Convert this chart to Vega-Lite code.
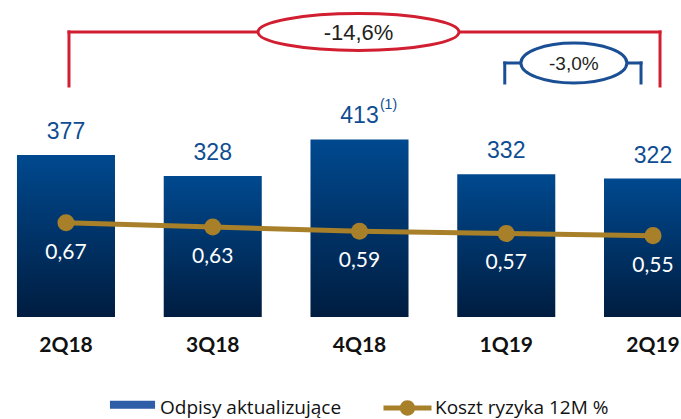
{
  "$schema": "https://vega.github.io/schema/vega-lite/v6.json",
  "width": 681,
  "height": 419,
  "autosize": "none",
  "padding": 0,
  "background": "white",
  "config": {
    "view": {"stroke": null},
    "font": "Lato",
    "locale": {"number": {"decimal": ",", "thousands": " ", "grouping": [3], "currency": ["", ""]}}
  },
  "datasets": {
    "quarters": [
      {"quarter": "2Q18", "writedowns": 377, "risk_cost": 0.67, "note": ""},
      {"quarter": "3Q18", "writedowns": 328, "risk_cost": 0.63, "note": ""},
      {"quarter": "4Q18", "writedowns": 413, "risk_cost": 0.59, "note": "(1)"},
      {"quarter": "1Q19", "writedowns": 332, "risk_cost": 0.57, "note": ""},
      {"quarter": "2Q19", "writedowns": 322, "risk_cost": 0.55, "note": ""}
    ],
    "changes": [
      {"from": "2Q18", "to": "2Q19", "change": "-14,6%"},
      {"from": "1Q19", "to": "2Q19", "change": "-3,0%"}
    ],
    "series": [
      {"series": "Odpisy aktualizujące"},
      {"series": "Koszt ryzyka 12M %"}
    ]
  },
  "resolve": {"scale": {"y": "independent"}},
  "layer": [
    {
      "layer": [
        {
          "data": {"name": "quarters"},
          "mark": {
            "type": "bar",
            "color": {
              "gradient": "linear", "x1": 0, "y1": 0, "x2": 0, "y2": 1,
              "stops": [{"offset": 0, "color": "#00498F"}, {"offset": 1, "color": "#001D40"}]
            }
          },
          "encoding": {
            "x": {
              "field": "quarter", "type": "nominal", "sort": null,
              "scale": {"domain": ["2Q18", "3Q18", "4Q18", "1Q19", "2Q19"], "range": [-7.4, 726.4], "paddingInner": 0.332, "paddingOuter": 0.166},
              "axis": {
                "title": null, "domain": false, "ticks": false, "tickSize": 0, "grid": false,
                "labelPadding": 0, "offset": -74, "labelAngle": 0, "labelBaseline": "middle",
                "labelFont": "Lato", "labelFontWeight": "bold", "labelFontSize": 21, "labelColor": "#111111"
              }
            },
            "y": {"field": "writedowns", "type": "quantitative", "scale": {"domain": [-237.2, 737.2], "nice": false, "zero": false}, "axis": null}
          }
        },
        {
          "data": {"name": "quarters"},
          "mark": {"type": "text", "color": "#0F4D92", "font": "Liberation Sans", "fontSize": 23, "baseline": "middle", "dy": -23},
          "encoding": {
            "x": {"field": "quarter", "type": "nominal", "sort": null, "scale": {"domain": ["2Q18", "3Q18", "4Q18", "1Q19", "2Q19"]}},
            "y": {"field": "writedowns", "type": "quantitative", "axis": null},
            "text": {"field": "writedowns", "type": "quantitative"}
          }
        },
        {
          "data": {"name": "quarters"},
          "mark": {"type": "text", "color": "#0F4D92", "font": "Liberation Sans", "fontSize": 14, "baseline": "middle", "dx": 29, "dy": -34.4},
          "encoding": {
            "x": {"field": "quarter", "type": "nominal", "sort": null, "scale": {"domain": ["2Q18", "3Q18", "4Q18", "1Q19", "2Q19"]}},
            "y": {"field": "writedowns", "type": "quantitative", "axis": null},
            "text": {"field": "note", "type": "nominal"}
          }
        },
        {
          "data": {"name": "changes"},
          "transform": [{"filter": "datum.change === '-14,6%'"}],
          "mark": {"type": "rule", "color": "#D11F31", "strokeWidth": 3, "strokeCap": "square", "xOffset": 3, "x2Offset": 7},
          "encoding": {
            "x": {"field": "from", "type": "nominal", "scale": {"domain": ["2Q18", "3Q18", "4Q18", "1Q19", "2Q19"]}},
            "x2": {"field": "to"},
            "y": {"datum": 662.8, "type": "quantitative", "axis": null}
          }
        },
        {
          "data": {"name": "changes"},
          "transform": [{"filter": "datum.change === '-14,6%'"}],
          "mark": {"type": "rule", "color": "#D11F31", "strokeWidth": 3, "strokeCap": "square", "xOffset": 3},
          "encoding": {
            "x": {"field": "from", "type": "nominal", "scale": {"domain": ["2Q18", "3Q18", "4Q18", "1Q19", "2Q19"]}},
            "y": {"datum": 662.8, "type": "quantitative", "axis": null},
            "y2": {"datum": 537.2}
          }
        },
        {
          "data": {"name": "changes"},
          "transform": [{"filter": "datum.change === '-14,6%'"}],
          "mark": {"type": "rule", "color": "#D11F31", "strokeWidth": 3, "strokeCap": "square", "xOffset": 7},
          "encoding": {
            "x": {"field": "to", "type": "nominal", "scale": {"domain": ["2Q18", "3Q18", "4Q18", "1Q19", "2Q19"]}},
            "y": {"datum": 662.8, "type": "quantitative", "axis": null},
            "y2": {"datum": 537.2}
          }
        },
        {
          "data": {"name": "changes"},
          "transform": [{"filter": "datum.change === '-3,0%'"}],
          "mark": {"type": "rule", "color": "#1B4F95", "strokeWidth": 3, "strokeCap": "square", "xOffset": -1.5, "x2Offset": -12},
          "encoding": {
            "x": {"field": "from", "type": "nominal", "scale": {"domain": ["2Q18", "3Q18", "4Q18", "1Q19", "2Q19"]}},
            "x2": {"field": "to"},
            "y": {"datum": 590.7, "type": "quantitative", "axis": null}
          }
        },
        {
          "data": {"name": "changes"},
          "transform": [{"filter": "datum.change === '-3,0%'"}],
          "mark": {"type": "rule", "color": "#1B4F95", "strokeWidth": 3, "strokeCap": "square", "xOffset": -1.5},
          "encoding": {
            "x": {"field": "from", "type": "nominal", "scale": {"domain": ["2Q18", "3Q18", "4Q18", "1Q19", "2Q19"]}},
            "y": {"datum": 590.7, "type": "quantitative", "axis": null},
            "y2": {"datum": 544.2}
          }
        },
        {
          "data": {"name": "changes"},
          "transform": [{"filter": "datum.change === '-3,0%'"}],
          "mark": {"type": "rule", "color": "#1B4F95", "strokeWidth": 3, "strokeCap": "square", "xOffset": -12},
          "encoding": {
            "x": {"field": "to", "type": "nominal", "scale": {"domain": ["2Q18", "3Q18", "4Q18", "1Q19", "2Q19"]}},
            "y": {"datum": 590.7, "type": "quantitative", "axis": null},
            "y2": {"datum": 544.2}
          }
        },
        {
          "data": {"name": "changes"},
          "transform": [{"filter": "datum.change === '-14,6%'"}],
          "mark": {"type": "point", "shape": "M-1,0A1,0.184,0,1,0,1,0A1,0.184,0,1,0,-1,0Z", "size": 40401, "filled": true, "fill": "white", "stroke": "#D11F31", "strokeWidth": 3, "opacity": 1, "xOffset": -1},
          "encoding": {
            "x": {"datum": "4Q18", "type": "nominal", "scale": {"domain": ["2Q18", "3Q18", "4Q18", "1Q19", "2Q19"]}},
            "y": {"datum": 662.8, "type": "quantitative", "axis": null}
          }
        },
        {
          "data": {"name": "changes"},
          "transform": [{"filter": "datum.change === '-14,6%'"}],
          "mark": {"type": "text", "font": "Liberation Sans", "fontSize": 22, "color": "#231F20", "baseline": "middle", "xOffset": -1, "dy": 1},
          "encoding": {
            "x": {"datum": "4Q18", "type": "nominal", "scale": {"domain": ["2Q18", "3Q18", "4Q18", "1Q19", "2Q19"]}},
            "y": {"datum": 662.8, "type": "quantitative", "axis": null},
            "text": {"field": "change", "type": "nominal"}
          }
        },
        {
          "data": {"name": "changes"},
          "transform": [{"filter": "datum.change === '-3,0%'"}],
          "mark": {"type": "point", "shape": "M-1,0A1,0.377,0,1,0,1,0A1,0.377,0,1,0,-1,0Z", "size": 11236, "filled": true, "fill": "white", "stroke": "#1B4F95", "strokeWidth": 3, "opacity": 1, "xOffset": 67.6},
          "encoding": {
            "x": {"datum": "1Q19", "type": "nominal", "scale": {"domain": ["2Q18", "3Q18", "4Q18", "1Q19", "2Q19"]}},
            "y": {"datum": 590.7, "type": "quantitative", "axis": null}
          }
        },
        {
          "data": {"name": "changes"},
          "transform": [{"filter": "datum.change === '-3,0%'"}],
          "mark": {"type": "text", "font": "Liberation Sans", "fontSize": 19, "color": "#231F20", "baseline": "middle", "xOffset": 67.6, "dy": 1},
          "encoding": {
            "x": {"datum": "1Q19", "type": "nominal", "scale": {"domain": ["2Q18", "3Q18", "4Q18", "1Q19", "2Q19"]}},
            "y": {"datum": 590.7, "type": "quantitative", "axis": null},
            "text": {"field": "change", "type": "nominal"}
          }
        }
      ]
    },
    {
      "layer": [
        {
          "data": {"name": "quarters"},
          "mark": {"type": "line", "color": "#A8802A", "strokeWidth": 5},
          "encoding": {
            "x": {"field": "quarter", "type": "nominal", "sort": null, "scale": {"domain": ["2Q18", "3Q18", "4Q18", "1Q19", "2Q19"]}},
            "y": {"field": "risk_cost", "type": "quantitative", "scale": {"domain": [-1.148, 2.732], "nice": false, "zero": false}, "axis": null}
          }
        },
        {
          "data": {"name": "quarters"},
          "mark": {"type": "circle", "color": "#A8802A", "size": 290, "opacity": 1},
          "encoding": {
            "x": {"field": "quarter", "type": "nominal", "sort": null, "scale": {"domain": ["2Q18", "3Q18", "4Q18", "1Q19", "2Q19"]}},
            "y": {"field": "risk_cost", "type": "quantitative", "axis": null}
          }
        },
        {
          "data": {"name": "quarters"},
          "mark": {"type": "text", "color": "white", "font": "Lato", "fontSize": 21, "baseline": "middle", "dy": 30},
          "encoding": {
            "x": {"field": "quarter", "type": "nominal", "sort": null, "scale": {"domain": ["2Q18", "3Q18", "4Q18", "1Q19", "2Q19"]}},
            "y": {"field": "risk_cost", "type": "quantitative", "axis": null},
            "text": {"field": "risk_cost", "type": "quantitative", "format": ".2f"}
          }
        },
        {
          "data": {"name": "series"},
          "mark": {"type": "point", "filled": true, "opacity": 0},
          "encoding": {
            "color": {
              "field": "series", "type": "nominal",
              "scale": {"domain": ["Odpisy aktualizujące", "Koszt ryzyka 12M %"], "range": ["#2E5EA8", "#A8802A"]},
              "legend": {
                "title": null, "orient": "none", "legendX": 108.5, "legendY": 384, "direction": "horizontal",
                "symbolSize": 2304, "symbolStrokeWidth": 0, "symbolOpacity": 1,
                "labelFont": "Open Sans", "labelFontSize": 19, "labelColor": "#111111", "labelOffset": 3.5,
                "columnPadding": 42, "padding": 0, "labelLimit": 400,
                "encode": {
                  "symbols": {
                    "update": {
                      "fill": [
                        {
                          "test": "datum.label === 'Odpisy aktualizujące'",
                          "value": {"gradient": "linear", "x1": 0, "y1": 0, "x2": 0, "y2": 1, "stops": [{"offset": 0, "color": "#2B5BA6"}, {"offset": 1, "color": "#E6ECF5"}]}
                        },
                        {"value": "#A8802A"}
                      ],
                      "opacity": {"value": 1}
                    }
                  }
                }
              }
            },
            "shape": {
              "field": "series", "type": "nominal",
              "scale": {
                "domain": ["Odpisy aktualizujące", "Koszt ryzyka 12M %"],
                "range": [
                  "M-0.94,-0.3L0.94,-0.3L0.94,0.03L-0.94,0.03Z",
                  "M-1,-0.1L1,-0.1L1,0.1L-1,0.1Z M0.32,0A0.32,0.32,0,1,1,-0.32,0A0.32,0.32,0,1,1,0.32,0Z"
                ]
              },
              "legend": {
                "title": null, "orient": "none", "legendX": 108.5, "legendY": 384, "direction": "horizontal",
                "symbolSize": 2304, "symbolStrokeWidth": 0, "symbolOpacity": 1,
                "labelFont": "Open Sans", "labelFontSize": 19, "labelColor": "#111111", "labelOffset": 3.5,
                "columnPadding": 42, "padding": 0, "labelLimit": 400,
                "encode": {
                  "symbols": {
                    "update": {
                      "fill": [
                        {
                          "test": "datum.label === 'Odpisy aktualizujące'",
                          "value": {"gradient": "linear", "x1": 0, "y1": 0, "x2": 0, "y2": 1, "stops": [{"offset": 0, "color": "#2B5BA6"}, {"offset": 1, "color": "#E6ECF5"}]}
                        },
                        {"value": "#A8802A"}
                      ],
                      "opacity": {"value": 1}
                    }
                  }
                }
              }
            }
          }
        }
      ]
    }
  ]
}
